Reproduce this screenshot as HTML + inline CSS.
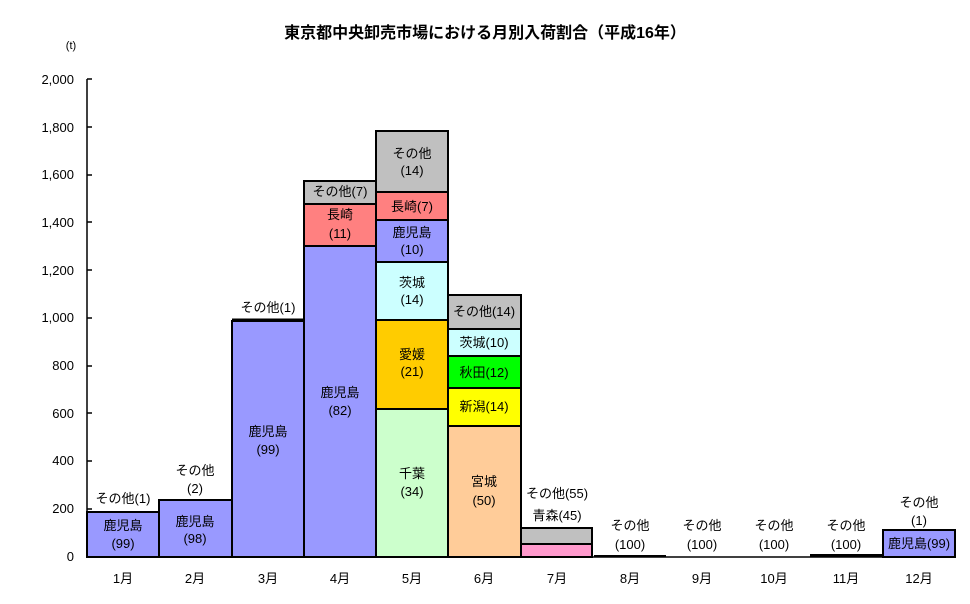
<!DOCTYPE html>
<html><head><meta charset="utf-8"><style>
body{margin:0;background:#fff}
svg{display:block}
text{font-family:"Liberation Sans","Noto Sans CJK JP",sans-serif;font-size:13px;fill:#000}
</style></head><body>
<svg width="970" height="604" viewBox="0 0 970 604">
<text x="485" y="38" text-anchor="middle" style="font-size:16px;font-weight:bold">東京都中央卸売市場における月別入荷割合（平成16年）</text>
<text x="71" y="49" text-anchor="middle" style="font-size:11px">(t)</text>
<g text-anchor="end" style="font-size:13px">
<text x="74" y="84">2,000</text><text x="74" y="132">1,800</text><text x="74" y="179">1,600</text>
<text x="74" y="227">1,400</text><text x="74" y="275">1,200</text><text x="74" y="322">1,000</text>
<text x="74" y="370">800</text><text x="74" y="418">600</text><text x="74" y="465">400</text>
<text x="74" y="513">200</text><text x="74" y="561">0</text>
</g>
<g stroke="#000" stroke-width="1.5">
<line x1="87" y1="79" x2="87" y2="557"/>
<line x1="87" y1="79" x2="92" y2="79"/><line x1="87" y1="127" x2="92" y2="127"/><line x1="87" y1="175" x2="92" y2="175"/>
<line x1="87" y1="222" x2="92" y2="222"/><line x1="87" y1="270" x2="92" y2="270"/><line x1="87" y1="318" x2="92" y2="318"/>
<line x1="87" y1="366" x2="92" y2="366"/><line x1="87" y1="413" x2="92" y2="413"/><line x1="87" y1="461" x2="92" y2="461"/>
<line x1="87" y1="509" x2="92" y2="509"/>
</g>
<g stroke="#000" stroke-width="2">
<!-- Jan -->
<rect x="87" y="512" width="72" height="45" fill="#9999FF"/>
<!-- Feb -->
<rect x="159" y="500" width="73" height="57" fill="#9999FF"/>
<!-- Mar -->
<rect x="232" y="321" width="72" height="236" fill="#9999FF"/>
<line x1="232" y1="320" x2="304" y2="320" stroke-width="3"/>
<!-- Apr -->
<rect x="304" y="246" width="72" height="311" fill="#9999FF"/>
<rect x="304" y="204" width="72" height="42" fill="#FF8080"/>
<rect x="304" y="181" width="72" height="23" fill="#C0C0C0"/>
<!-- May -->
<rect x="376" y="409" width="72" height="148" fill="#CCFFCC"/>
<rect x="376" y="320" width="72" height="89" fill="#FFCC00"/>
<rect x="376" y="262" width="72" height="58" fill="#CCFFFF"/>
<rect x="376" y="220" width="72" height="42" fill="#9999FF"/>
<rect x="376" y="192" width="72" height="28" fill="#FF8080"/>
<rect x="376" y="131" width="72" height="61" fill="#C0C0C0"/>
<!-- Jun -->
<rect x="448" y="426" width="73" height="131" fill="#FFCC99"/>
<rect x="448" y="388" width="73" height="38" fill="#FFFF00"/>
<rect x="448" y="356" width="73" height="32" fill="#00FF00"/>
<rect x="448" y="329" width="73" height="27" fill="#CCFFFF"/>
<rect x="448" y="295" width="73" height="34" fill="#C0C0C0"/>
<!-- Jul -->
<rect x="521" y="544" width="71" height="13" fill="#FF99CC"/>
<rect x="521" y="528" width="71" height="16" fill="#C0C0C0"/>
<!-- Aug..Nov -->
<line x1="594" y1="556" x2="666" y2="556"/>
<line x1="810" y1="555.5" x2="883" y2="555.5" stroke-width="3"/>
<!-- Dec -->
<rect x="883" y="530" width="72" height="27" fill="#9999FF"/>
<line x1="87" y1="557" x2="956" y2="557" stroke-width="1.5"/>
</g>
<g text-anchor="middle">
<text x="123" y="503">その他(1)</text>
<text x="123" y="530">鹿児島</text><text x="123" y="548">(99)</text>
<text x="195" y="475">その他</text><text x="195" y="493">(2)</text>
<text x="195" y="526">鹿児島</text><text x="195" y="543">(98)</text>
<text x="268" y="312">その他(1)</text>
<text x="268" y="436">鹿児島</text><text x="268" y="454">(99)</text>
<text x="340" y="397">鹿児島</text><text x="340" y="415">(82)</text>
<text x="340" y="196">その他(7)</text>
<text x="340" y="219">長崎</text><text x="340" y="238">(11)</text>
<text x="412" y="158">その他</text><text x="412" y="175">(14)</text>
<text x="412" y="211">長崎(7)</text>
<text x="412" y="237">鹿児島</text><text x="412" y="254">(10)</text>
<text x="412" y="287">茨城</text><text x="412" y="304">(14)</text>
<text x="412" y="359">愛媛</text><text x="412" y="376">(21)</text>
<text x="412" y="478">千葉</text><text x="412" y="496">(34)</text>
<text x="484" y="316">その他(14)</text>
<text x="484" y="347">茨城(10)</text>
<text x="484" y="377">秋田(12)</text>
<text x="484" y="411">新潟(14)</text>
<text x="484" y="486">宮城</text><text x="484" y="505">(50)</text>
<text x="557" y="498">その他(55)</text>
<text x="557" y="520">青森(45)</text>
<text x="630" y="530">その他</text><text x="630" y="549">(100)</text>
<text x="702" y="530">その他</text><text x="702" y="549">(100)</text>
<text x="774" y="530">その他</text><text x="774" y="549">(100)</text>
<text x="846" y="530">その他</text><text x="846" y="549">(100)</text>
<text x="919" y="507">その他</text><text x="919" y="525">(1)</text>
<text x="919" y="548">鹿児島(99)</text>
</g>
<g text-anchor="middle">
<text x="123" y="583">1月</text><text x="195" y="583">2月</text><text x="268" y="583">3月</text>
<text x="340" y="583">4月</text><text x="412" y="583">5月</text><text x="484" y="583">6月</text>
<text x="557" y="583">7月</text><text x="630" y="583">8月</text><text x="702" y="583">9月</text>
<text x="774" y="583">10月</text><text x="846" y="583">11月</text><text x="919" y="583">12月</text>
</g>
</svg>
</body></html>
